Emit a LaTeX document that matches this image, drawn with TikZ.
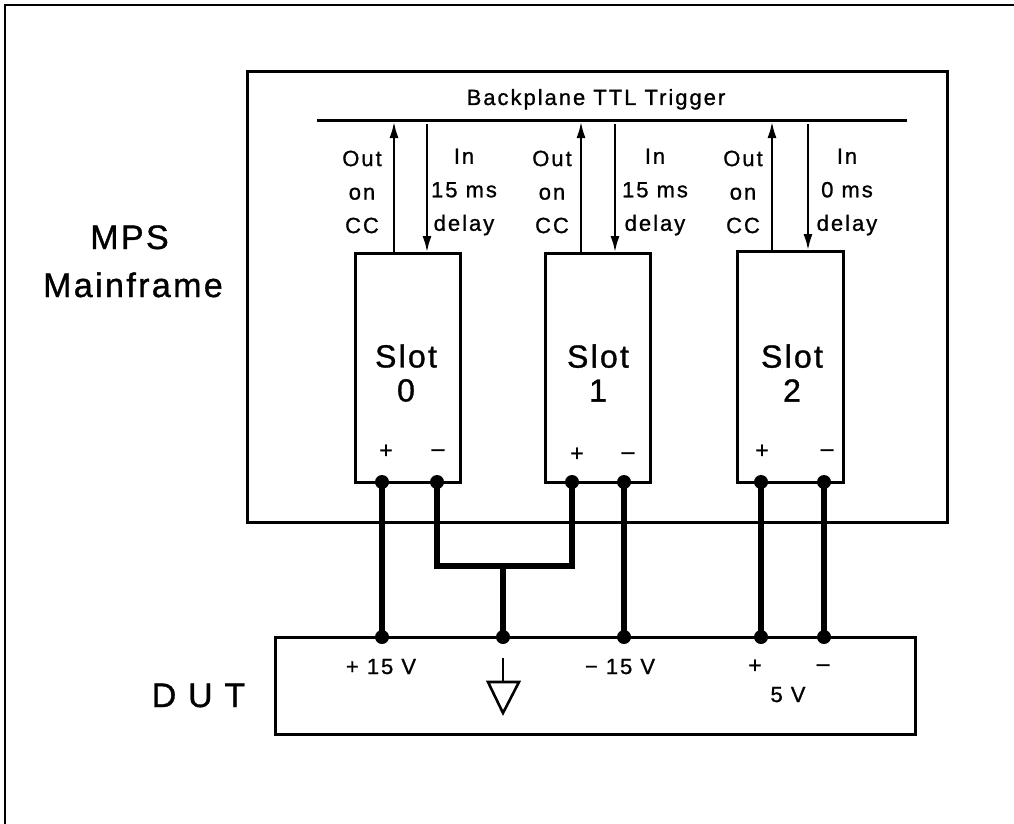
\documentclass[tikz,border=0pt]{standalone}
\usepackage{fontspec}
\setmainfont{Liberation Sans}
\newfontfamily\labf[LetterSpace=9,FakeBold=1]{Liberation Sans}
\newfontfamily\bigf[LetterSpace=7,FakeBold=1]{Liberation Sans}
\usetikzlibrary{arrows.meta}
\begin{document}
\begin{tikzpicture}[x=1pt,y=-1pt,
  frame/.style={draw, line width=3pt, inner sep=0pt},
  wire/.style={line width=6pt},
  trig/.style={line width=2.8pt, -{Latex[length=17pt,width=9pt]}},
  lab/.style={font=\labf\fontsize{22}{33.5}\selectfont, align=center, inner sep=0pt},
  pm/.style={font=\labf\fontsize{23}{26}\selectfont, inner sep=0pt, anchor=base},
  big/.style={font=\bigf\fontsize{34}{38}\selectfont, inner sep=0pt, anchor=base},
  slotlab/.style={font=\bigf\fontsize{32}{34}\selectfont, align=center, inner sep=0pt},
  dot/.style={fill=black}
]
\useasboundingbox (0,0) rectangle (1014,824);
% outer frame (top and left edges only)
\coordinate (fbl) at (5,824);
\coordinate (ftl) at (5,5);
\coordinate (ftr) at (1014,5);
\draw[line width=2.4pt] (fbl) -- (ftl) -- (ftr);

% mainframe
\node[frame, minimum width=700pt, minimum height=450pt] (mf) at (597,297) {};
\node[big] (mps) at (129.5,249) {MPS};
\node[big] (mfl) at (133,297) {Mainframe};

% backplane
\coordinate (bpl) at (317,121);
\coordinate (bpr) at (907,121);
\draw[line width=3pt] (bpl) -- (bpr);
\node[lab, anchor=base] (bpt) at (596,105) {Backplane TTL Trigger};

% slots
\node[frame, minimum width=105pt, minimum height=229pt] (s0) at (407.5,367.5) {};
\node[frame, minimum width=105pt, minimum height=229pt] (s1) at (597.5,367.5) {};
\node[frame, minimum width=106pt, minimum height=231pt] (s2) at (790,366.5) {};
\node[slotlab] (s0t) at (406,373) {Slot\\0};
\node[slotlab] (s1t) at (598,373) {Slot\\1};
\node[slotlab] (s2t) at (792,373) {Slot\\2};

% trigger arrows
\coordinate (o0b) at (394,253); \coordinate (o0t) at (394,121);
\coordinate (i0t) at (427,124); \coordinate (i0b) at (427,253);
\coordinate (o1b) at (581,253); \coordinate (o1t) at (581,121);
\coordinate (i1t) at (615,124); \coordinate (i1b) at (615,253);
\coordinate (o2b) at (772,251); \coordinate (o2t) at (772,121);
\coordinate (i2t) at (808,124); \coordinate (i2b) at (808,251);
\draw[trig] (o0b) -- (o0t);
\draw[trig] (i0t) -- (i0b);
\draw[trig] (o1b) -- (o1t);
\draw[trig] (i1t) -- (i1b);
\draw[trig] (o2b) -- (o2t);
\draw[trig] (i2t) -- (i2b);

\node[lab] (out0) at (362,192) {Out\\on\\CC};
\node[lab] (in0) at (464,192) {In\\15 ms\\delay};
\node[lab] (out1) at (552,192) {Out\\on\\CC};
\node[lab] (in1) at (655,192) {In\\15 ms\\delay};
\node[lab] (out2) at (743,192) {Out\\on\\CC};
\node[lab] (in2) at (847,192) {In\\0 ms\\delay};

% slot terminal signs
\node[pm] (s0plus) at (386,458) {+};
\node[pm] (s0minus) at (438,456) {–};
\node[pm] (s1plus) at (577,461) {+};
\node[pm] (s1minus) at (628,459) {–};
\node[pm] (s2plus) at (762,458) {+};
\node[pm] (s2minus) at (827,456) {–};

% DUT
\node[frame, minimum width=640pt, minimum height=97pt] (dut) at (595,685.5) {};
\node[big] (dutl) at (198.5,707) {D U T};
\node[lab, anchor=base] (v15p) at (381,674) {+ 15 V};
\node[lab, anchor=base] (v15m) at (620,674) {− 15 V};
\node[pm] (v5p) at (755,673) {+};
\node[pm] (v5m) at (823,671) {–};
\node[lab, anchor=base] (v5) at (788,702) {5 V};

% terminals
\coordinate (t0p) at (382,482);
\coordinate (t0m) at (437,482);
\coordinate (t1p) at (572,482);
\coordinate (t1m) at (624,482);
\coordinate (t2p) at (761,482);
\coordinate (t2m) at (824,482);
\coordinate (d15p) at (382,637);
\coordinate (dgnd) at (503,637);
\coordinate (d15m) at (624,637);
\coordinate (d5p) at (761,637);
\coordinate (d5m) at (824,637);
\coordinate (gl) at (437,566);
\coordinate (gr) at (572,566);
\coordinate (gj) at (503,566);

\draw[wire] (t0p) -- (d15p);
\draw[wire] (t1m) -- (d15m);
\draw[wire] (t2p) -- (d5p);
\draw[wire] (t2m) -- (d5m);
\draw[wire, line join=miter] (t0m) -- (gl) -- (gr) -- (t1p);
\draw[wire] (gj) -- (dgnd);

\foreach \p in {t0p,t0m,t1p,t1m,t2p,t2m,d15p,dgnd,d15m,d5p,d5m}
  \fill[dot] (\p) circle[radius=7pt];

% ground symbol
\coordinate (g1) at (503,658);
\coordinate (g2) at (503,682);
\coordinate (gtl) at (488,682);
\coordinate (gtr) at (519,682);
\coordinate (gta) at (503,713);
\draw[line width=2.6pt] (g1) -- (g2);
\draw[line width=2.6pt, line join=miter] (gtl) -- (gtr) -- (gta) -- cycle;
\end{tikzpicture}
\end{document}
